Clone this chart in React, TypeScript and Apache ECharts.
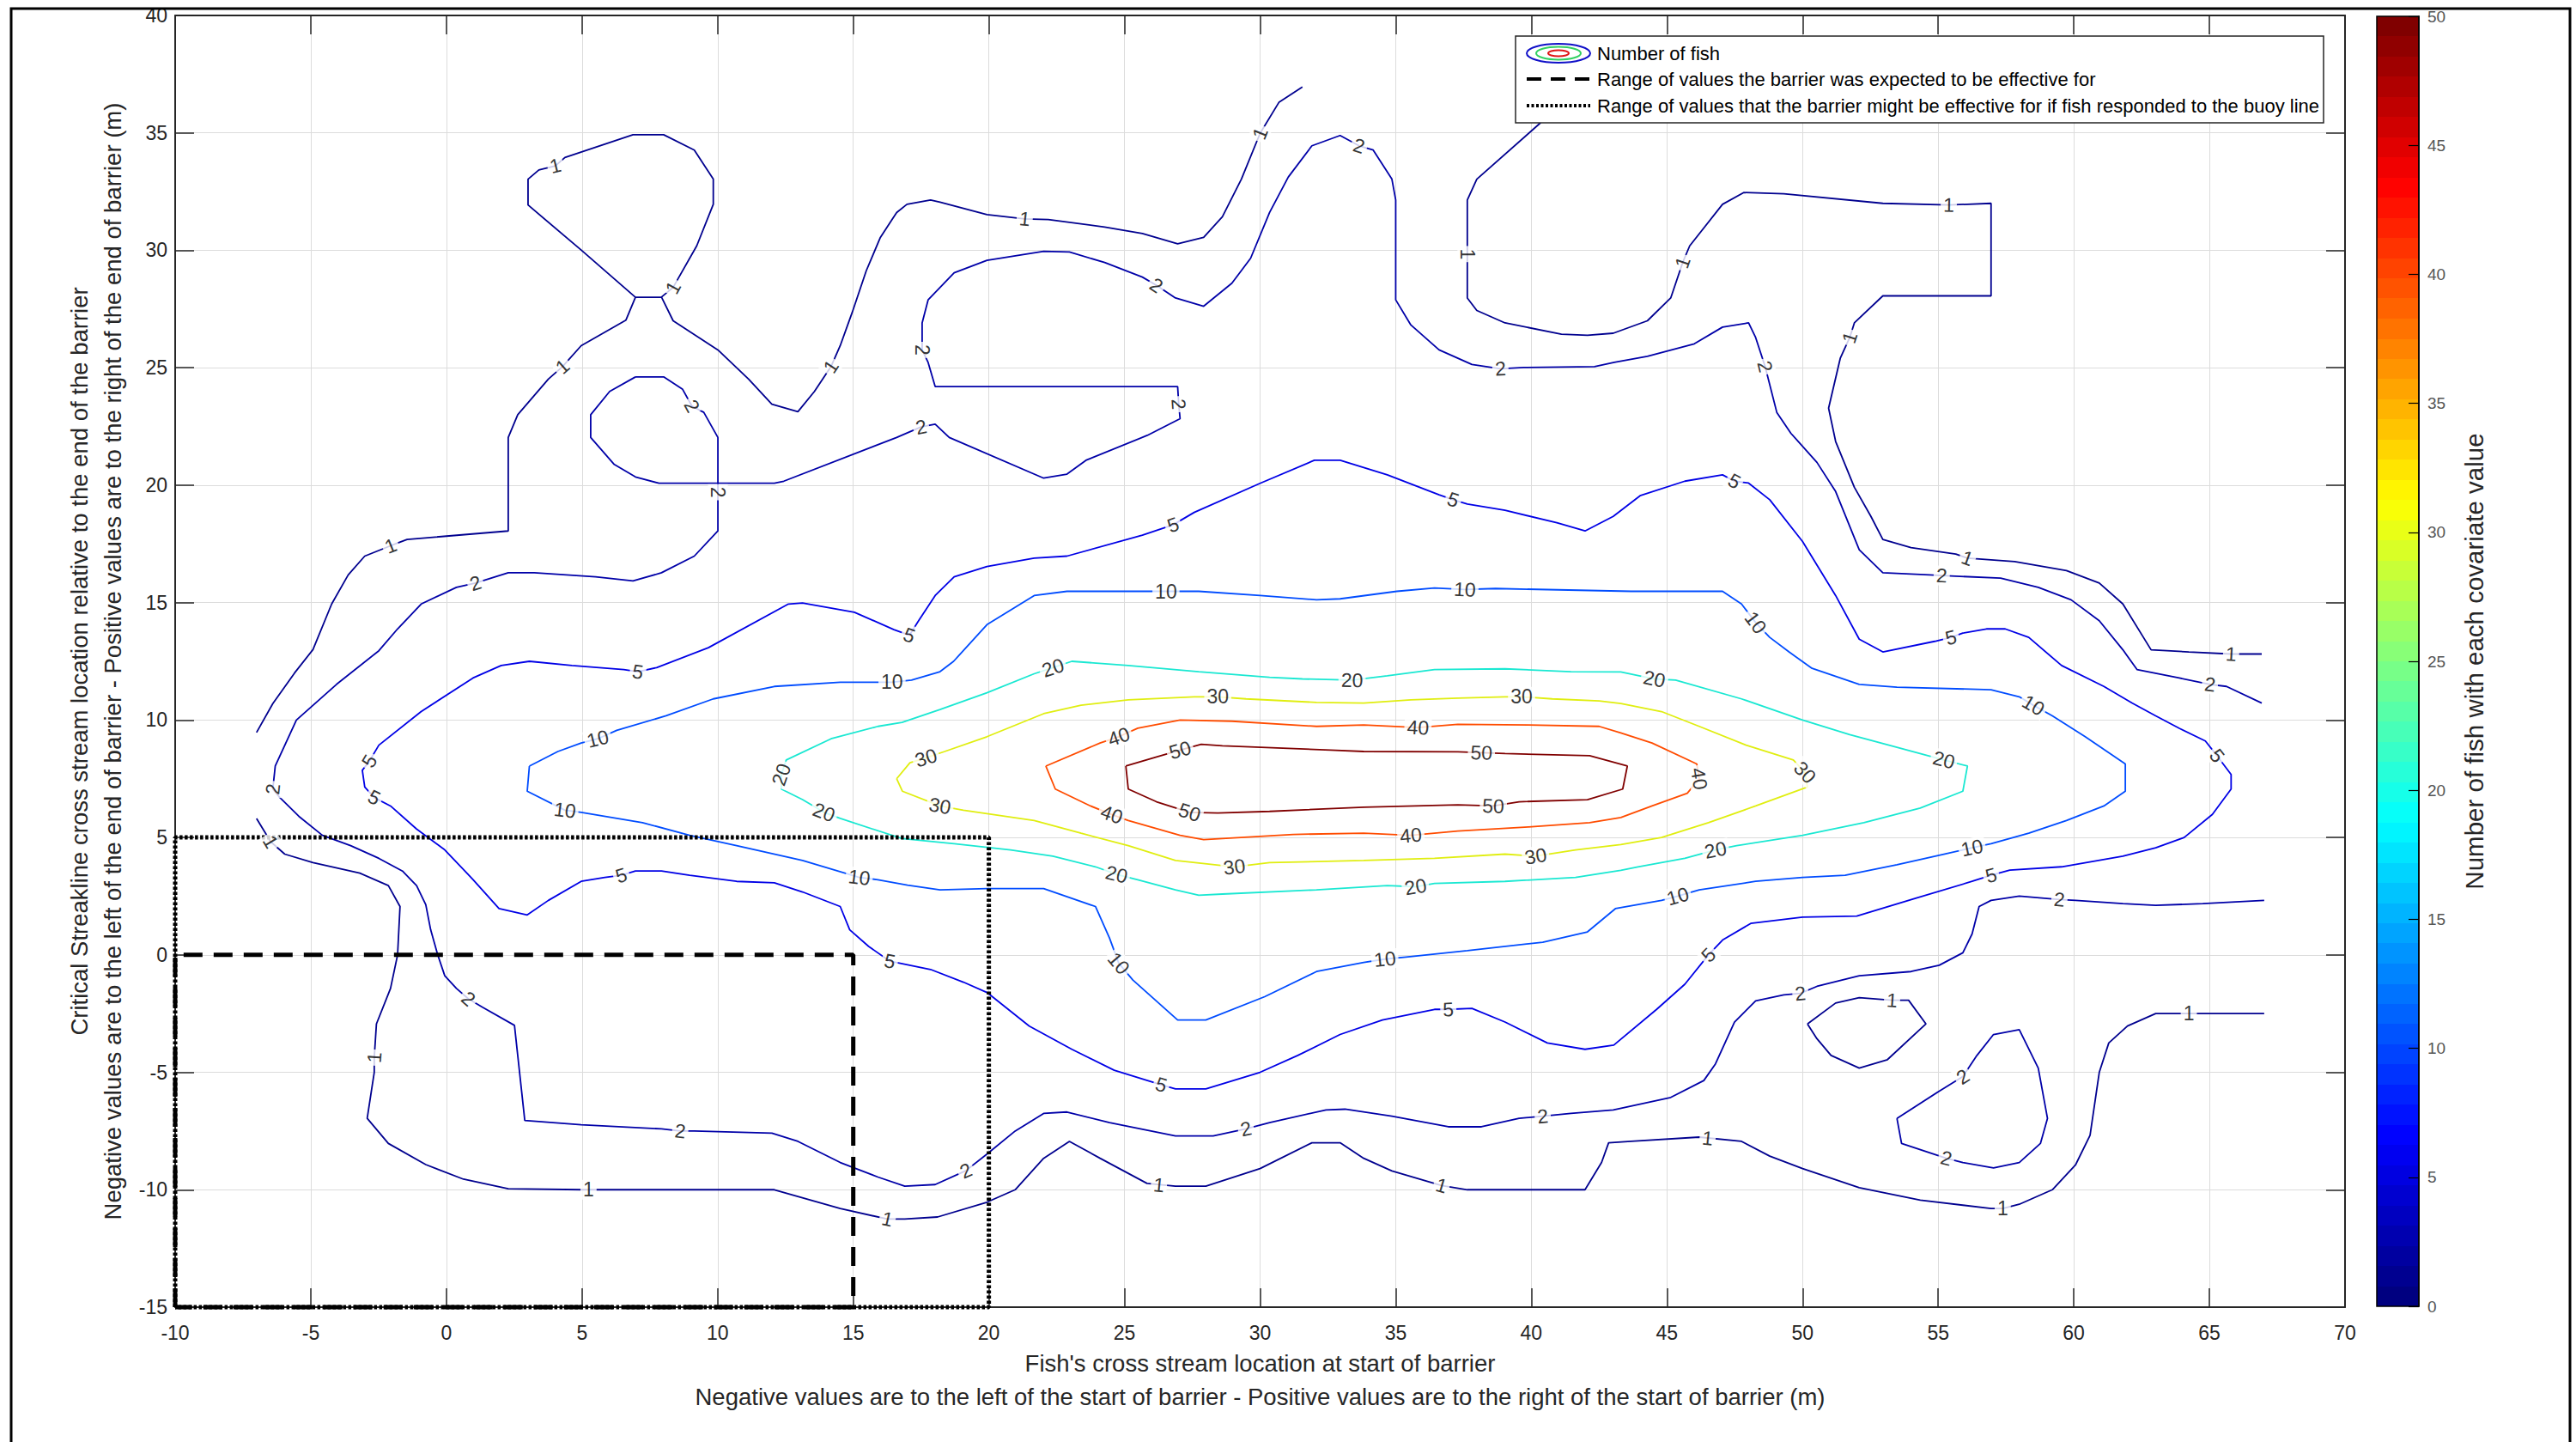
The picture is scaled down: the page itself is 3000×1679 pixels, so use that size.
import React, { useEffect, useRef } from "react";
import * as echarts from "echarts";

const FONT = '"Liberation Sans", Arial, Helvetica, sans-serif';

const X_RANGE = [-10, 70];
const Y_RANGE = [-15, 40];
const CB_RANGE = [0, 50];
const TICK_STEP = 5;

const X_TITLE =
  "Fish's cross stream location at start of barrier\nNegative values are to the left of the start of barrier - Positive values are to the right of the start of barrier (m)";
const Y_TITLE =
  "Critical Streakline cross stream location relative to the end of the barrier\nNegative values are to the left of the end of barrier - Positive values are to the right of the end of barrier (m)";
const CB_TITLE = "Number of fish with each covariate value";
const LEGEND_TEXTS = [
  "Number of fish",
  "Range of values the barrier was expected to be effective for",
  "Range of values that the barrier might be effective for if fish responded to the buoy line",
];

// ---- contour level 1 ----
const c1Left = [[-7.0,9.47],[-6.4,10.7],[-5.6,12.0],[-4.92,13.0],[-4.23,14.94],[-3.62,16.18],[-3.01,16.98],[-2.06,17.42],[-1.45,17.69],[2.28,18.05],[2.28,22.03],[2.63,23.0],[3.76,24.52],[4.28,25.05],[4.97,25.94],[6.62,27.03],[6.97,28.0],[7.93,28.0],[6.97,28.0],[4.97,30.01],[3.01,31.93],[3.01,33.03],[3.41,33.42],[4.02,33.6],[4.37,33.95],[6.88,34.92],[8.01,34.92],[9.14,34.27],[9.84,33.03],[9.84,31.96],[9.23,30.19],[8.53,28.77],[8.36,28.42],[7.93,28.01],[8.36,27.0],[10.01,25.76],[11.14,24.52],[12.0,23.45],[12.96,23.13],[13.57,23.99],[14.18,25.05],[14.52,25.94],[14.96,27.35],[15.48,29.13],[16.0,30.55],[16.6,31.61],[16.98,31.96],[17.85,32.14],[18.2,32.05],[19.93,31.52],[21.32,31.34],[22.19,31.31],[24.27,30.99],[25.66,30.72],[26.96,30.28],[27.92,30.55],[28.61,31.43],[29.31,33.03],[30.0,34.98],[30.7,36.31],[31.56,36.96]];
const c1LeftLabels = [[-2.06,17.42],[4.28,25.05],[4.02,33.6],[8.36,28.42],[14.18,25.05],[21.32,31.34],[30.0,34.98]];

const c1TopRight = [[41.3,36.8],[40.33,35.42],[37.99,33.03],[37.64,32.14],[37.64,29.84],[37.64,27.97],[37.99,27.44],[39.03,26.91],[41.11,26.43],[42.07,26.38],[43.02,26.47],[44.28,27.0],[45.14,27.97],[45.58,29.48],[45.84,30.19],[47.05,31.96],[47.83,32.46],[49.31,32.41],[52.96,32.0],[55.39,31.93],[56.95,32.0],[56.95,28.06],[52.96,28.06],[51.91,26.91],[51.74,26.29],[51.39,25.4],[50.96,23.28],[51.22,21.86],[51.91,19.91],[52.52,18.67],[52.96,17.69],[54.0,17.34],[55.65,17.07],[56.08,16.89],[57.82,16.75],[59.73,16.36],[60.94,15.83],[61.81,14.94],[62.85,12.99],[64.24,12.9],[65.8,12.81],[66.93,12.81]];
const c1TopRightLabels = [[37.64,29.84],[45.58,29.48],[55.39,31.93],[51.74,26.29],[56.08,16.89],[65.8,12.81]];

const c1Bottom = [[-7.0,5.81],[-6.48,4.82],[-5.96,4.29],[-4.92,3.93],[-3.19,3.48],[-2.14,2.95],[-1.71,2.06],[-1.8,0.0],[-2.06,-1.43],[-2.58,-2.94],[-2.66,-4.37],[-2.66,-5.0],[-2.92,-6.96],[-2.14,-8.03],[-0.76,-8.93],[0.63,-9.55],[2.28,-9.96],[5.0,-10.0],[12.09,-10.0],[14.52,-10.8],[16.26,-11.25],[16.9,-11.25],[18.11,-11.16],[19.93,-10.53],[20.97,-10.0],[22.02,-8.66],[22.97,-7.94],[24.1,-8.66],[25.83,-9.73],[26.88,-9.85],[28.0,-9.85],[30.0,-9.1],[31.91,-8.0],[32.95,-8.0],[33.82,-8.66],[34.86,-9.2],[36.69,-9.82],[37.64,-10.0],[41.98,-10.0],[42.59,-8.84],[42.85,-8.0],[43.68,-7.94],[46.19,-7.76],[47.75,-7.94],[48.79,-8.57],[50.0,-9.1],[52.09,-9.91],[54.34,-10.44],[56.95,-10.8],[57.38,-10.8],[57.99,-10.62],[59.21,-10.0],[60.07,-8.93],[60.6,-7.68],[60.94,-5.0],[61.29,-3.75],[61.98,-3.03],[63.02,-2.5],[64.24,-2.5],[67.02,-2.5]];
const c1BottomLabels = [[-6.48,4.82],[-2.66,-4.37],[5.24,-10.0],[16.26,-11.25],[26.27,-9.8],[36.69,-9.82],[46.5,-7.8],[57.38,-10.8],[64.24,-2.5]];

const c1Small = [[50.18,-2.94],[51.22,-2.05],[52.09,-1.82],[53.3,-1.93],[53.91,-1.93],[54.55,-2.94],[53.13,-4.46],[52.09,-4.82],[51.05,-4.28],[50.53,-3.57],[50.18,-2.94]];
const c1SmallLabels = [[53.3,-1.93]];

// ---- contour level 2 ----
const c2LoopTop = [[6.97,24.61],[8.01,24.61],[8.71,24.08],[9.05,23.37],[9.49,23.1],[10.01,22.03],[10.01,20.08],[7.84,20.08],[6.97,20.35],[6.19,20.88],[5.32,22.03],[5.32,23.0],[6.02,23.99],[6.97,24.61]];
const c2LoopTopLabels = [[9.05,23.37]];

const c2Big = [[66.93,10.72],[65.63,11.43],[65.02,11.52],[63.89,11.79],[62.33,12.15],[61.81,12.99],[60.94,14.23],[59.9,15.12],[58.69,15.65],[57.3,16.04],[55.13,16.15],[54.69,16.18],[52.96,16.27],[52.09,17.25],[51.22,19.73],[50.53,20.97],[49.57,22.21],[49.05,23.1],[48.62,25.05],[48.27,26.29],[48.01,26.91],[47.05,26.73],[46.01,26.02],[44.28,25.49],[43.06,25.23],[42.33,25.05],[39.72,25.01],[38.86,24.96],[37.81,25.14],[36.6,25.76],[35.56,26.82],[35.0,27.89],[35.0,32.14],[34.86,33.03],[34.17,34.27],[33.65,34.45],[32.95,34.89],[31.91,34.45],[31.04,33.12],[30.35,31.61],[29.65,29.66],[28.96,28.6],[27.92,27.62],[26.88,27.97],[26.18,28.51],[25.66,28.86],[24.27,29.48],[22.97,29.93],[22.02,29.96],[19.93,29.57],[18.72,29.04],[17.76,27.89],[17.54,26.91],[17.54,25.76],[17.76,25.23],[18.02,24.2],[26.96,24.2],[27.0,23.45],[27.05,22.83],[25.84,22.12],[23.58,21.06],[22.88,20.47],[22.02,20.3],[18.54,22.03],[18.02,22.6],[17.5,22.48],[16.6,22.03],[12.44,20.17],[12.09,20.08],[10.01,20.08],[10.01,19.7],[10.01,18.05],[9.14,16.98],[7.93,16.27],[6.88,15.92],[5.5,16.1],[3.24,16.27],[2.28,16.27],[1.07,15.83],[0.37,15.65],[-0.93,14.94],[-1.8,13.88],[-2.49,12.95],[-4.05,11.52],[-5.53,10.0],[-6.31,8.04],[-6.4,7.06],[-6.14,6.7],[-5.44,5.9],[-4.57,5.09],[-3.53,4.65],[-2.49,4.11],[-1.62,3.57],[-1.1,2.95],[-0.76,2.14],[-0.58,1.07],[-0.32,0.0],[-0.06,-0.89],[0.37,-1.43],[0.81,-1.87],[1.33,-2.23],[2.51,-3.0],[2.63,-4.28],[2.89,-7.05],[4.97,-7.23],[7.93,-7.41],[8.62,-7.5],[9.14,-7.5],[12.0,-7.59],[12.96,-7.94],[14.52,-8.84],[15.91,-9.46],[16.9,-9.85],[18.02,-9.78],[19.15,-9.19],[19.93,-8.48],[20.97,-7.5],[22.02,-6.75],[22.88,-6.69],[24.45,-7.14],[26.88,-7.71],[28.27,-7.71],[29.48,-7.41],[30.35,-7.14],[32.43,-6.6],[33.13,-6.57],[34.86,-6.87],[36.94,-7.32],[38.16,-7.32],[39.55,-6.96],[40.42,-6.87],[41.46,-6.75],[43.02,-6.6],[45.14,-6.07],[46.36,-5.35],[46.79,-4.64],[47.49,-2.86],[48.27,-1.96],[49.31,-1.7],[49.92,-1.64],[50.53,-1.34],[52.09,-0.89],[54.0,-0.71],[55.04,-0.44],[55.91,0.09],[56.25,0.89],[56.51,2.06],[56.95,2.32],[57.99,2.5],[59.47,2.36],[60.07,2.32],[61.81,2.18],[63.02,2.11],[64.76,2.18],[67.02,2.32]];
const c2BigLabels = [[65.02,11.52],[55.13,16.15],[48.62,25.05],[38.86,24.96],[33.65,34.45],[26.18,28.51],[17.54,25.76],[27.0,23.45],[17.5,22.48],[10.01,19.7],[1.07,15.83],[-6.4,7.06],[0.81,-1.87],[8.62,-7.5],[19.15,-9.19],[29.48,-7.41],[40.42,-6.87],[49.92,-1.64],[59.47,2.36]];

const c2LoopRight = [[53.48,-6.96],[55.04,-5.8],[55.91,-5.18],[56.43,-4.28],[57.04,-3.39],[57.99,-3.18],[58.69,-4.82],[59.03,-6.96],[58.77,-8.03],[57.99,-8.84],[57.04,-9.07],[55.91,-8.84],[55.3,-8.66],[53.65,-8.03],[53.48,-6.96]];
const c2LoopRightLabels = [[55.91,-5.18],[55.3,-8.66]];

// ---- contour level 5 ----
const c5Loop = [[-2.84,8.25],[-2.49,8.93],[-0.93,10.36],[0.98,11.79],[2.02,12.32],[3.06,12.5],[4.63,12.32],[6.54,12.15],[7.06,12.06],[7.75,12.23],[9.66,13.08],[12.61,14.94],[13.13,14.98],[15.04,14.59],[16.5,13.85],[17.07,13.61],[17.41,14.23],[18.02,15.3],[18.72,16.1],[19.93,16.54],[21.67,16.89],[22.88,16.98],[25.66,17.87],[26.79,18.31],[27.57,18.84],[30.0,20.08],[32.0,21.06],[32.95,21.06],[34.69,20.44],[36.6,19.59],[37.12,19.38],[37.64,19.2],[39.03,18.93],[40.94,18.4],[41.98,18.05],[43.02,18.67],[44.01,19.55],[45.66,20.17],[47.05,20.44],[47.49,20.17],[48.01,20.09],[48.79,19.38],[50.0,17.6],[51.22,15.3],[52.09,13.44],[52.96,12.9],[54.87,13.35],[55.47,13.52],[55.91,13.7],[56.78,13.88],[57.47,13.88],[58.34,13.52],[59.55,12.32],[61.11,11.43],[62.16,10.72],[63.02,10.18],[63.89,9.65],[64.85,9.11],[65.28,8.48],[65.8,7.68],[65.8,7.06],[65.11,5.98],[64.07,5.0],[63.02,4.56],[61.81,4.2],[59.55,3.75],[57.64,3.61],[56.95,3.39],[56.25,3.13],[54.17,2.41],[52.0,1.65],[50.0,1.61],[48.09,1.34],[47.05,0.63],[46.53,0.0],[45.66,-1.25],[44.62,-2.32],[43.04,-3.84],[41.98,-4.02],[40.59,-3.75],[39.03,-2.86],[37.81,-2.28],[36.94,-2.32],[36.43,-2.32],[34.51,-2.77],[32.95,-3.39],[31.39,-4.28],[30.0,-5.0],[28.0,-5.71],[26.88,-5.71],[26.36,-5.53],[24.62,-4.91],[23.06,-4.02],[21.49,-3.03],[19.93,-1.6],[19.06,-1.16],[17.85,-0.62],[16.35,-0.27],[15.57,0.36],[14.87,1.07],[14.52,2.06],[13.13,2.68],[12.09,3.07],[10.7,3.13],[8.97,3.39],[7.93,3.57],[6.97,3.57],[6.45,3.39],[5.84,3.3],[4.97,3.13],[3.76,2.32],[2.98,1.7],[1.94,1.97],[0.98,3.21],[-0.06,4.47],[-1.1,5.36],[-2.06,6.34],[-2.66,6.7],[-3.01,7.15],[-3.1,7.86],[-2.84,8.25]];
const c5LoopLabels = [[-2.84,8.25],[7.06,12.06],[17.07,13.61],[26.79,18.31],[37.12,19.38],[47.49,20.17],[55.47,13.52],[65.28,8.48],[56.95,3.39],[46.53,0.0],[36.94,-2.32],[26.36,-5.53],[16.35,-0.27],[6.45,3.39],[-2.66,6.7]];

// ---- contour level 10 ----
const c10Loop = [[3.06,8.04],[4.11,8.66],[4.97,9.02],[5.58,9.2],[6.28,9.56],[8.1,10.18],[9.84,10.9],[12.09,11.43],[14.52,11.61],[16.43,11.61],[17.15,11.7],[18.2,12.06],[18.7,12.5],[19.93,14.06],[21.67,15.3],[22.88,15.48],[26.53,15.48],[27.74,15.48],[30.0,15.3],[32.08,15.12],[32.95,15.16],[35.04,15.48],[36.43,15.62],[37.55,15.56],[38.68,15.6],[43.68,15.48],[47.05,15.48],[47.75,14.94],[48.27,14.15],[48.79,13.52],[49.5,12.9],[50.35,12.2],[52.09,11.52],[53.48,11.4],[56.95,11.29],[57.99,10.99],[58.51,10.63],[59.21,10.18],[60.42,9.29],[61.9,8.13],[61.9,6.97],[61.11,6.34],[59.73,5.72],[58.34,5.18],[56.95,4.73],[56.25,4.56],[55.21,4.29],[53.48,3.84],[51.57,3.39],[50.0,3.3],[48.27,3.13],[46.19,2.77],[45.4,2.5],[44.8,2.32],[43.1,1.97],[42.07,0.98],[40.42,0.54],[37.64,0.18],[35.38,-0.09],[34.6,-0.18],[33.82,-0.32],[32.08,-0.71],[30.17,-1.78],[28.0,-2.77],[26.96,-2.77],[25.31,-1.07],[24.79,-0.36],[24.45,0.71],[23.93,2.06],[22.02,2.82],[19.93,2.82],[18.2,2.77],[17.0,2.97],[15.91,3.2],[15.22,3.3],[13.13,4.02],[10.7,4.65],[8.97,5.09],[7.23,5.63],[4.97,6.07],[4.37,6.16],[2.98,6.97],[3.06,8.04]];
const c10LoopLabels = [[5.58,9.2],[16.43,11.61],[26.53,15.48],[37.55,15.56],[48.27,14.15],[58.51,10.63],[56.25,4.56],[45.4,2.5],[34.6,-0.18],[24.79,-0.36],[15.22,3.3],[4.37,6.16]];

// ---- contour level 20 ----
const c20Loop = [[12.35,7.68],[12.53,8.3],[14.18,9.2],[15.91,9.73],[16.8,9.9],[18.2,10.45],[19.93,11.16],[21.67,11.97],[22.36,12.23],[23.06,12.5],[25.14,12.32],[27.74,12.06],[30.35,11.82],[31.56,11.75],[33.39,11.7],[34.69,11.88],[36.43,12.15],[39.03,12.18],[41.46,12.06],[43.3,12.05],[44.54,11.75],[45.32,11.7],[47.75,10.9],[50.0,10.0],[51.74,9.38],[53.48,8.84],[55.21,8.3],[56.08,8.04],[55.91,6.97],[54.34,6.25],[52.26,5.63],[50.0,5.09],[47.57,4.65],[46.79,4.47],[45.66,4.11],[43.93,3.75],[43.3,3.6],[41.63,3.3],[39.03,3.13],[36.43,3.04],[35.73,2.9],[34.69,2.95],[32.08,2.77],[28.61,2.59],[27.74,2.54],[26.88,2.77],[25.49,3.2],[24.71,3.43],[23.93,3.75],[22.36,4.2],[20.8,4.47],[18.72,4.73],[16.8,4.95],[14.52,5.81],[13.92,6.07],[13.13,6.61],[12.35,7.06],[12.35,7.68]];
const c20LoopLabels = [[12.35,7.68],[22.36,12.23],[33.39,11.7],[44.54,11.75],[55.21,8.3],[46.79,4.47],[35.73,2.9],[24.71,3.43],[13.92,6.07]];

// ---- contour level 30 ----
const c30Loop = [[16.6,7.5],[17.09,8.18],[17.68,8.39],[18.37,8.66],[19.93,9.29],[22.02,10.27],[23.4,10.63],[25.14,10.86],[27.57,10.99],[28.44,10.99],[29.48,10.9],[32.08,10.75],[33.82,10.72],[35.56,10.86],[37.29,10.93],[39.03,10.99],[39.64,10.99],[40.77,10.9],[42.5,10.81],[43.3,10.7],[44.8,10.36],[46.19,9.73],[47.92,8.93],[49.66,8.3],[50.09,7.77],[50.18,7.15],[48.27,6.34],[46.53,5.63],[44.8,5.0],[43.3,4.7],[41.63,4.47],[40.16,4.2],[39.03,4.29],[36.43,4.11],[33.82,4.02],[30.35,3.93],[29.05,3.75],[26.88,4.02],[25.14,4.65],[23.4,5.18],[21.67,5.72],[19.06,6.16],[18.2,6.34],[16.81,6.97],[16.6,7.5]];
const c30LoopLabels = [[17.68,8.39],[28.44,10.99],[39.64,10.99],[50.09,7.77],[40.16,4.2],[29.05,3.75],[18.2,6.34]];

// ---- contour level 40 ----
const c40Loop = [[22.1,8.04],[24.1,9.02],[24.79,9.29],[25.49,9.65],[27.05,10.0],[28.96,9.95],[32.08,9.73],[33.82,9.79],[35.82,9.68],[37.29,9.82],[39.9,9.79],[42.5,9.73],[43.3,9.45],[44.45,9.02],[46.1,8.13],[46.19,7.5],[45.75,6.88],[44.45,6.34],[43.3,5.85],[42.15,5.63],[39.9,5.45],[37.29,5.27],[35.56,5.09],[33.82,5.18],[31.22,5.13],[27.92,4.91],[27.05,5.09],[25.14,5.72],[24.53,5.98],[23.75,6.34],[22.45,7.06],[22.1,8.04]];
const c40LoopLabels = [[24.79,9.29],[35.82,9.68],[46.19,7.5],[35.56,5.09],[24.53,5.98]];

// ---- contour level 50 ----
const c50Loop = [[25.05,8.04],[25.14,7.06],[26.18,6.52],[27.4,6.07],[28.44,6.04],[30.35,6.11],[33.82,6.29],[37.29,6.39],[38.6,6.34],[39.55,6.52],[42.07,6.61],[43.37,7.06],[43.54,8.04],[42.15,8.48],[39.03,8.57],[38.16,8.61],[37.29,8.65],[33.82,8.66],[32.6,8.72],[28.61,8.9],[27.83,8.97],[27.05,8.72],[26.18,8.43],[25.05,8.04]];
const c50LoopLabels = [[27.4,6.07],[38.6,6.34],[38.16,8.61],[27.05,8.72]];

// ---- barrier ranges ----
const barrierExpected = [[-10,-15],[-10,0],[15,0],[15,-15],[-10,-15]];
const barrierMight = [[-10,-15],[-10,5],[20,5],[20,-15],[-10,-15]];

type Contour = { level: number; pts: number[][]; labels: number[][] };
const contours: Contour[] = [
  { level: 1, pts: c1Left, labels: c1LeftLabels },
  { level: 1, pts: c1TopRight, labels: c1TopRightLabels },
  { level: 1, pts: c1Bottom, labels: c1BottomLabels },
  { level: 1, pts: c1Small, labels: c1SmallLabels },
  { level: 2, pts: c2LoopTop, labels: c2LoopTopLabels },
  { level: 2, pts: c2Big, labels: c2BigLabels },
  { level: 2, pts: c2LoopRight, labels: c2LoopRightLabels },
  { level: 5, pts: c5Loop, labels: c5LoopLabels },
  { level: 10, pts: c10Loop, labels: c10LoopLabels },
  { level: 20, pts: c20Loop, labels: c20LoopLabels },
  { level: 30, pts: c30Loop, labels: c30LoopLabels },
  { level: 40, pts: c40Loop, labels: c40LoopLabels },
  { level: 50, pts: c50Loop, labels: c50LoopLabels },
];

const LEVEL_COLOR: Record<number, string> = {
  1: "#00008f",
  2: "#0000a8",
  5: "#0000e6",
  10: "#004cff",
  20: "#1ae8d2",
  30: "#e0ee10",
  40: "#ff4c00",
  50: "#800000",
};

function jet(t: number): string {
  const c = (v: number) => Math.round(Math.max(0, Math.min(1, v)) * 255);
  const r = c(1.5 - Math.abs(4 * t - 3));
  const g = c(1.5 - Math.abs(4 * t - 2));
  const b = c(1.5 - Math.abs(4 * t - 1));
  return `rgb(${r},${g},${b})`;
}

function segDist(p: number[], a: number[], b: number[]) {
  const dx = b[0] - a[0], dy = b[1] - a[1];
  const l2 = dx * dx + dy * dy || 1;
  let t = ((p[0] - a[0]) * dx + (p[1] - a[1]) * dy) / l2;
  t = Math.max(0, Math.min(1, t));
  const qx = a[0] + t * dx - p[0], qy = a[1] + t * dy - p[1];
  return qx * qx + qy * qy;
}

export default function App() {
  const ref = useRef<HTMLDivElement>(null);
  useEffect(() => {
    document.body.style.margin = "0";
    const chart = echarts.init(ref.current!, null, { renderer: "svg" });

    const axisColor = "#262626";
    const stops: { offset: number; color: string }[] = [];
    for (let i = 0; i < 64; i++) {
      const col = jet(i / 63);
      stops.push({ offset: i / 64, color: col });
      stops.push({ offset: (i + 1) / 64, color: col });
    }

    const baseSeries: any[] = [];
    contours.forEach((c) => {
      baseSeries.push({
        type: "line",
        xAxisIndex: 0,
        yAxisIndex: 0,
        data: c.pts,
        showSymbol: false,
        symbol: "none",
        silent: true,
        z: 3,
        lineStyle: { color: LEVEL_COLOR[c.level], width: 1.8 },
      });
    });
    baseSeries.push({
      type: "line",
      xAxisIndex: 0,
      yAxisIndex: 0,
      data: barrierMight,
      showSymbol: false,
      symbol: "none",
      clip: false,
      silent: true,
      z: 4,
      lineStyle: { color: "#000", width: 5, type: [3.5, 2.5] },
    });
    baseSeries.push({
      type: "line",
      xAxisIndex: 0,
      yAxisIndex: 0,
      data: barrierExpected,
      showSymbol: false,
      symbol: "none",
      clip: false,
      silent: true,
      z: 4,
      lineStyle: { color: "#000", width: 5, type: [22, 13] },
    });
    baseSeries.push({
      type: "custom",
      xAxisIndex: 2,
      yAxisIndex: 2,
      data: [[0, CB_RANGE[0]]],
      silent: true,
      renderItem: (_p: any, api: any) => {
        const p0 = api.coord([0, CB_RANGE[0]]);
        const p1 = api.coord([1, CB_RANGE[1]]);
        return {
          type: "rect",
          shape: { x: p0[0], y: p1[1], width: p1[0] - p0[0], height: p0[1] - p1[1] },
          style: {
            fill: new echarts.graphic.LinearGradient(0, 1, 0, 0, stops),
            stroke: "#000",
            lineWidth: 1.5,
          },
        };
      },
    });

    const tickLabelStyle = { fontSize: 23, color: axisColor, fontFamily: FONT };
    const option: any = {
      animation: false,
      backgroundColor: "#fff",
      grid: [
        { left: 204, right: 269, top: 18, bottom: 157 },
        { left: 2768, right: 183, top: 19, bottom: 158 },
      ],
      xAxis: [
        {
          type: "value", gridIndex: 0, position: "bottom",
          min: X_RANGE[0], max: X_RANGE[1], interval: TICK_STEP,
          axisLine: { show: true, onZero: false, lineStyle: { color: axisColor, width: 2 } },
          axisTick: { show: true, inside: true, length: 22, lineStyle: { color: axisColor, width: 1.5 } },
          axisLabel: { ...tickLabelStyle, margin: 18, showMinLabel: true, showMaxLabel: true },
          splitLine: { show: true, lineStyle: { color: "#dcdcdc", width: 1 } },
          name: X_TITLE, nameLocation: "middle", nameGap: 46,
          nameTextStyle: { fontSize: 27.5, lineHeight: 39, color: axisColor, fontFamily: FONT },
        },
        {
          type: "value", gridIndex: 0, position: "top",
          min: X_RANGE[0], max: X_RANGE[1], interval: TICK_STEP,
          axisLine: { show: true, onZero: false, lineStyle: { color: axisColor, width: 2 } },
          axisTick: { show: true, inside: true, length: 22, lineStyle: { color: axisColor, width: 1.5 } },
          axisLabel: { show: false },
          splitLine: { show: false },
        },
        { type: "value", gridIndex: 1, min: 0, max: 1, show: false },
      ],
      yAxis: [
        {
          type: "value", gridIndex: 0, position: "left",
          min: Y_RANGE[0], max: Y_RANGE[1], interval: TICK_STEP,
          axisLine: { show: true, onZero: false, lineStyle: { color: axisColor, width: 2 } },
          axisTick: { show: true, inside: true, length: 22, lineStyle: { color: axisColor, width: 1.5 } },
          axisLabel: { ...tickLabelStyle, margin: 9, showMinLabel: true, showMaxLabel: true },
          splitLine: { show: true, lineStyle: { color: "#dcdcdc", width: 1 } },
          name: Y_TITLE, nameLocation: "middle", nameGap: 48, nameRotate: 90,
          nameTextStyle: { fontSize: 27.5, lineHeight: 39, color: axisColor, fontFamily: FONT },
        },
        {
          type: "value", gridIndex: 0, position: "right",
          min: Y_RANGE[0], max: Y_RANGE[1], interval: TICK_STEP,
          axisLine: { show: true, onZero: false, lineStyle: { color: axisColor, width: 2 } },
          axisTick: { show: true, inside: true, length: 22, lineStyle: { color: axisColor, width: 1.5 } },
          axisLabel: { show: false },
          splitLine: { show: false },
        },
        {
          type: "value", gridIndex: 1, position: "right", z: 10,
          min: CB_RANGE[0], max: CB_RANGE[1], interval: TICK_STEP,
          axisLine: { show: true, onZero: false, lineStyle: { color: "#000", width: 1.5 } },
          axisTick: { show: true, inside: true, length: 12, lineStyle: { color: "#000", width: 1.2 } },
          axisLabel: { fontSize: 19, color: "#555", margin: 10, fontFamily: FONT, showMinLabel: true, showMaxLabel: true },
          splitLine: { show: false },
          name: CB_TITLE, nameLocation: "middle", nameGap: 49, nameRotate: 90,
          nameTextStyle: { fontSize: 29.5, color: axisColor, fontFamily: FONT },
        },
      ],
      graphic: {
        elements: [
          {
            type: "rect", z: 100, silent: true,
            shape: { x: 13, y: 10, width: 2980, height: 1720 },
            style: { fill: "none", stroke: "#000", lineWidth: 3 },
          },
          {
            type: "group", z: 100, silent: true,
            children: [
              {
                type: "rect", z: 100,
                shape: { x: 1765, y: 42, width: 941, height: 101 },
                style: { fill: "#fff", stroke: axisColor, lineWidth: 1.5 },
              },
              { type: "ellipse", z: 101, shape: { cx: 1815, cy: 62, rx: 37, ry: 11 }, style: { fill: "none", stroke: "#1010c8", lineWidth: 2 } },
              { type: "ellipse", z: 101, shape: { cx: 1815, cy: 62, rx: 26, ry: 7.5 }, style: { fill: "none", stroke: "#30d060", lineWidth: 2 } },
              { type: "ellipse", z: 101, shape: { cx: 1815, cy: 62, rx: 12, ry: 3.5 }, style: { fill: "none", stroke: "#e01818", lineWidth: 2 } },
              { type: "line", z: 101, shape: { x1: 1778, y1: 92, x2: 1852, y2: 92 }, style: { stroke: "#000", lineWidth: 4, lineDash: [17, 11] } },
              { type: "line", z: 101, shape: { x1: 1778, y1: 123, x2: 1852, y2: 123 }, style: { stroke: "#000", lineWidth: 4, lineDash: [3, 2.5] } },
              { type: "text", z: 101, x: 1860, y: 62, style: { text: LEGEND_TEXTS[0], fontSize: 22, fontFamily: FONT, fill: "#000", verticalAlign: "middle", align: "left" } },
              { type: "text", z: 101, x: 1860, y: 92, style: { text: LEGEND_TEXTS[1], fontSize: 22, fontFamily: FONT, fill: "#000", verticalAlign: "middle", align: "left" } },
              { type: "text", z: 101, x: 1860, y: 123, style: { text: LEGEND_TEXTS[2], fontSize: 22, fontFamily: FONT, fill: "#000", verticalAlign: "middle", align: "left" } },
            ],
          },
        ],
      },
      series: baseSeries,
    };
    chart.setOption(option);

    const labelData: any[] = [];
    contours.forEach((c) => {
      const px = c.pts.map((p) => chart.convertToPixel({ xAxisIndex: 0, yAxisIndex: 0 }, p) as number[]);
      c.labels.forEach((lp) => {
        const q = chart.convertToPixel({ xAxisIndex: 0, yAxisIndex: 0 }, lp) as number[];
        let best = 0, bd = Infinity;
        for (let i = 0; i < px.length - 1; i++) {
          const d = segDist(q, px[i], px[i + 1]);
          if (d < bd) { bd = d; best = i; }
        }
        const a = px[best], b = px[best + 1];
        let ang = (-Math.atan2(b[1] - a[1], b[0] - a[0]) * 180) / Math.PI;
        if (ang > 90) ang -= 180;
        if (ang < -90) ang += 180;
        labelData.push({ value: lp, label: { formatter: String(c.level), rotate: Math.round(ang) } });
      });
    });

    chart.setOption({
      series: [
        ...baseSeries,
        {
          type: "scatter",
          xAxisIndex: 0,
          yAxisIndex: 0,
          symbolSize: 1,
          silent: true,
          z: 6,
          itemStyle: { color: "rgba(0,0,0,0)" },
          label: {
            show: true,
            position: "inside",
            fontSize: 23,
            color: "#000",
            fontFamily: FONT,
            backgroundColor: "#fff",
            padding: [0, 3],
          },
          data: labelData,
        },
      ],
    });

    return () => chart.dispose();
  }, []);

  return (
    <div
      ref={ref}
      style={{ position: "absolute", left: 0, top: 0, width: 3000, height: 1679 }}
    />
  );
}
